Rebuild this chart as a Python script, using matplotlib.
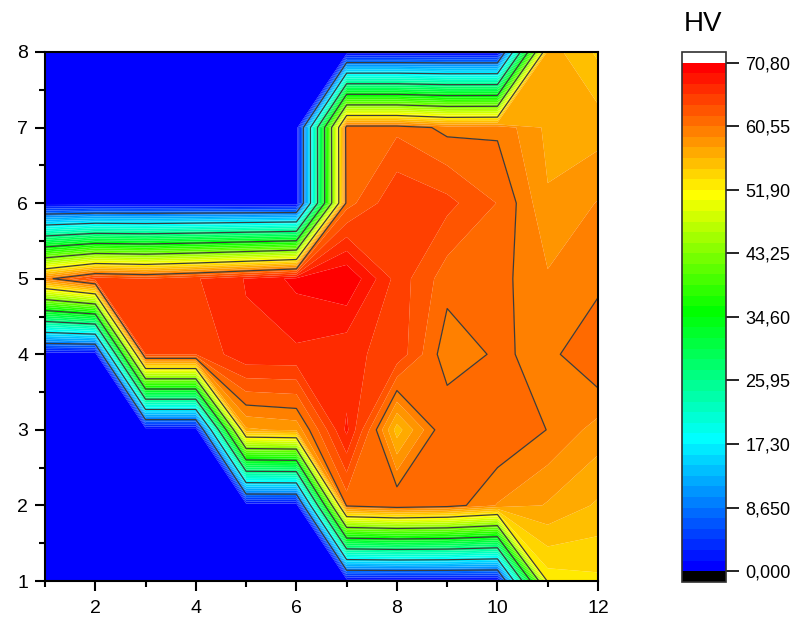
import numpy as np
import matplotlib
matplotlib.use('Agg')
import matplotlib.pyplot as plt
from matplotlib.colors import ListedColormap, BoundaryNorm

plt.rcParams['font.family'] = ['Liberation Sans', 'DejaVu Sans']

# grid
x_vals = np.arange(1, 13)
y_vals = np.arange(1, 9)

# HV values, one row per y (x = 1..12)
hv_y1 = [0, 0, 0, 0, 0, 0, 0, 0, 0, 0, 52.5, 53.0]
hv_y2 = [0, 0, 0, 0, 0, 0, 61.0, 62.2, 61.5, 59.0, 57.5, 56.0]
hv_y3 = [0, 0, 0, 0, 57.4, 58.0, 67.8, 55.5, 62.2, 62.1, 60.5, 58.5]
hv_y4 = [0, 0, 64.0, 64.0, 67.0, 67.0, 66.0, 65.2, 59.4, 60.85, 60.0, 62.2]
hv_y5 = [59.7, 65.0, 64.0, 65.5, 67.5, 69.6, 70.8, 65.0, 61.3, 61.1, 59.3, 60.0]
hv_y6 = [0, 0, 0, 0, 0, 0, 61.5, 65.5, 64.5, 62.2, 57.8, 59.2]
hv_y7 = [0, 0, 0, 0, 0, 0, 61.8, 61.8, 60.0, 60.2, 57.3, 57.0]
hv_y8 = [0, 0, 0, 0, 0, 0, 0, 0, 0, 0, 57.0, 54.5]

# colour scale
major_levels = [0.0, 8.65, 17.30, 25.95, 34.60, 43.25, 51.90, 60.55, 70.80]
major_labels = ['0,000', '8,650', '17,30', '25,95', '34,60', '43,25', '51,90', '60,55', '70,80']
line_levels = major_levels[1:-1]

Z = np.array([hv_y1, hv_y2, hv_y3, hv_y4, hv_y5, hv_y6, hv_y7, hv_y8])
X, Y = np.meshgrid(x_vals, y_vals)

levels = np.concatenate([np.linspace(0, 60.55, 43), np.linspace(60.55, 70.8, 7)[1:]])
levels[0] = -1e-6  # keep the zero values inside the first (blue) band
nb = len(levels) - 1
idx = np.arange(nb)
knots = [0, 12, 24, 35, nb - 1]
r = np.interp(idx, knots, [0, 0, 0, 1, 1])
g = np.interp(idx, knots, [0, 1, 1, 1, 0])
b = np.interp(idx, knots, [1, 1, 0, 0, 0])
cmap = ListedColormap(np.column_stack([r, g, b]))
cmap.set_over('white')
cmap.set_under('black')
norm = BoundaryNorm(levels, nb)

fig = plt.figure(figsize=(7.91, 6.24), dpi=100)
ax = fig.add_axes([45 / 791, 1 - 581 / 624, 553 / 791, 529 / 624])

cf = ax.contourf(X, Y, Z, levels=levels, cmap=cmap, norm=norm, extend='both', antialiased=True)
ax.contour(X, Y, Z, levels=line_levels, colors='#3c3c3c', linewidths=0.9)

ax.set_xlim(1, 12)
ax.set_ylim(1, 8)
ax.set_xticks([2, 4, 6, 8, 10, 12])
ax.set_xticks(np.arange(1, 12, 2), minor=True)
ax.set_yticks(np.arange(1, 9))
ax.set_yticks(np.arange(1.5, 8, 1), minor=True)
ax.tick_params(which='major', direction='out', length=7, width=1.5, labelsize=14, pad=5)
ax.tick_params(axis='x', which='major', pad=7)
ax.tick_params(which='minor', direction='out', length=4, width=1.5)
for s in ax.spines.values():
    s.set_linewidth(1.5)

cax = fig.add_axes([682.3 / 791, 1 - 581.7 / 624, 43.7 / 791, 529.7 / 624])
cb = fig.colorbar(cf, cax=cax, ticks=major_levels, extendrect=True, extendfrac=1 / nb)
cb.set_ticklabels(major_labels)
cb.ax.tick_params(length=9, width=1.2, labelsize=13, pad=5)
cb.ax.minorticks_off()
cb.outline.set_linewidth(1.2)
cb.outline.set_edgecolor('#303030')

fig.text(703.5 / 791, 1 - 24 / 624, 'HV', ha='center', va='center', fontsize=20)

fig.savefig('out.png', dpi=100)
